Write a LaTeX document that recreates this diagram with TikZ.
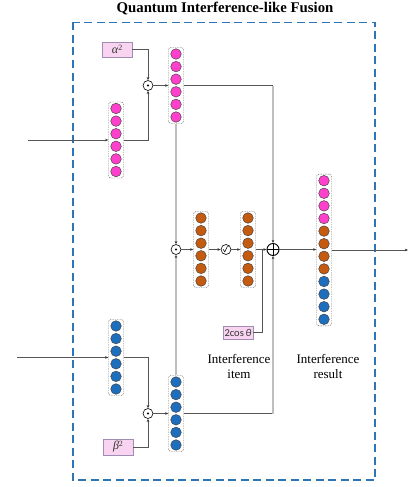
\documentclass[tikz,border=0pt]{standalone}
\usepackage{fontspec}
\setmainfont{Liberation Serif}
\newfontfamily\calib{Carlito}
\usetikzlibrary{arrows.meta}

\definecolor{pinkc}{RGB}{255,64,204}
\definecolor{orangec}{RGB}{197,90,17}
\definecolor{bluec}{RGB}{30,110,190}
\definecolor{framec}{RGB}{46,117,182}
\definecolor{wcfill}{RGB}{248,212,240}
\definecolor{wcdraw}{RGB}{160,140,180}
\definecolor{linec}{RGB}{85,85,85}
\definecolor{railc}{RGB}{190,190,190}

\tikzset{
  qball/.style={circle, draw=black!75, line width=0.45pt, minimum size=10.6pt, inner sep=0pt},
  stackbox/.style={draw=black!60, dash pattern=on 1.4pt off 1pt, line width=0.45pt,
    rounded corners=2.5pt, minimum width=15pt, inner sep=0pt},
  opnode/.style={circle, draw=black, line width=0.6pt, fill=white, minimum size=10pt, inner sep=0pt},
  wbox/.style={draw=wcdraw, fill=wcfill, line width=0.6pt, minimum width=30pt,
    minimum height=15pt, inner sep=0pt, text=black!80, font=\fontsize{12}{14}\selectfont},
  conn/.style={draw=linec, line width=0.7pt},
  rail/.style={draw=railc, line width=1.4pt},
  tip/.style={-{Stealth[length=3.2pt, width=2.6pt, color=black!80]}},
  frame/.style={draw=framec, line width=1.3pt, dash pattern=on 8pt off 4.5pt},
  lbl/.style={align=center, font=\fontsize{13}{15.5}\selectfont, inner sep=0pt},
}

% squared weight symbol, e.g. \wsq{α}
\newcommand\wsq[1]{\textit{#1}\raisebox{0.55ex}{\fontsize{8}{9}\selectfont 2}}

% a column of feature balls inside a dashed capsule: name, x, y-centre, count, colours
\newcommand\qstack[5]{%
  \node[stackbox, minimum height={(#4-1)*12.6+13}] (#1) at (#2,#3) {};
  \foreach \c [count=\i] in {#5}
    \node[qball, fill=\c] at (#2,{#3+(\i-(#4+1)/2)*12.6}) {};
}

\begin{document}
\begin{tikzpicture}[x=1pt, y=-1pt]
\useasboundingbox (0,0) rectangle (409,487);

% title and outer frame
\node[font=\bfseries\fontsize{14.8}{17}\selectfont, inner sep=0pt] (title) at (225,8) {Quantum Interference-like Fusion};
\draw[frame] (73,22.5) rectangle (375,480);

% feature columns
\qstack{pin}{116}{140}{6}{pinkc,pinkc,pinkc,pinkc,pinkc,pinkc}
\qstack{pout}{176}{85.5}{6}{pinkc,pinkc,pinkc,pinkc,pinkc,pinkc}
\qstack{bin}{116}{357.5}{6}{bluec,bluec,bluec,bluec,bluec,bluec}
\qstack{bout}{176}{413.5}{6}{bluec,bluec,bluec,bluec,bluec,bluec}
\qstack{oa}{201}{249.5}{6}{orangec,orangec,orangec,orangec,orangec,orangec}
\qstack{ob}{248}{249.5}{6}{orangec,orangec,orangec,orangec,orangec,orangec}
\qstack{res}{324}{250}{12}{pinkc,pinkc,pinkc,pinkc,orangec,orangec,orangec,orangec,bluec,bluec,bluec,bluec}

% weight boxes
\node[wbox] (wa) at (117,49.5) {\wsq{α}};
\node[wbox, minimum height=16pt] (wb) at (118,447) {\wsq{β}};
\node[wbox, minimum height=13pt, font=\calib\fontsize{10.5}{12}\selectfont] (wc) at (238,332.5) {2cos\,\textit{θ}};

% operators
\node[opnode] (mt) at (148,85.5) {};
\node[opnode] (mb) at (148,413.5) {};
\node[opnode] (mm) at (176,249.5) {};
\node[opnode] (sq) at (226,249.5) {};
\node[opnode, minimum size=12pt, line width=0.9pt] (pl) at (273,249.5) {};
\fill (mt) circle (1.1);
\fill (mb) circle (1.1);
\fill (mm) circle (1.1);
\draw[line width=0.55pt, line join=round] ([shift={(-2.8,-0.2)}]sq.center) -- ([shift={(-1.3,2.4)}]sq.center)
  -- ([shift={(1.2,-2.8)}]sq.center) -- ([shift={(2.6,-2.8)}]sq.center);
\draw[line width=0.9pt] (pl.north) -- (pl.south) (pl.west) -- (pl.east);

% free ends
\coordinate (inA) at (28,140);
\coordinate (inB) at (17,357.5);
\coordinate (outp) at (408,250);
\coordinate (jn) at (262,249.5);

% alpha branch
\draw[conn, tip] (inA) -- (pin.west);
\draw[conn, tip] (wa.east) -| (mt.north);
\draw[conn, tip] (pin.east) -| (mt.south);
\draw[conn, tip] (mt.east) -- (pout.west);

% beta branch
\draw[conn, tip] (inB) -- (bin.west);
\draw[conn, tip] (bin.east) -| (mb.north);
\draw[conn, tip] (wb.east) -| (mb.south);
\draw[conn, tip] (mb.east) -- (bout.west);

% interference item
\draw[rail, tip] (pout.south) -- (mm.north);
\draw[rail, tip] (bout.north) -- (mm.south);
\draw[conn, tip] (mm.east) -- (oa.west);
\draw[conn, tip] (oa.east) -- (sq.west);
\draw[conn, tip] (sq.east) -- (ob.west);
\draw[conn, tip] (ob.east) -- (pl.west);
\draw[conn] (wc.east) -| (jn);

% direct terms into the sum
\draw[conn] (pout.east) -- (pout.east -| pl);
\draw[rail, tip] (pout.east -| pl) -- (pl.north);
\draw[conn] (bout.east) -- (bout.east -| pl);
\draw[rail, tip] (bout.east -| pl) -- (pl.south);

% result
\draw[conn, tip] (pl.east) -- (pl.east -| res.west);
\draw[conn, tip] (res.east) -- (outp);

% captions
\node[lbl] (capa) at (239,366.5) {Interference\\item};
\node[lbl] (capb) at (328,366.5) {Interference\\result};
\end{tikzpicture}
\end{document}
